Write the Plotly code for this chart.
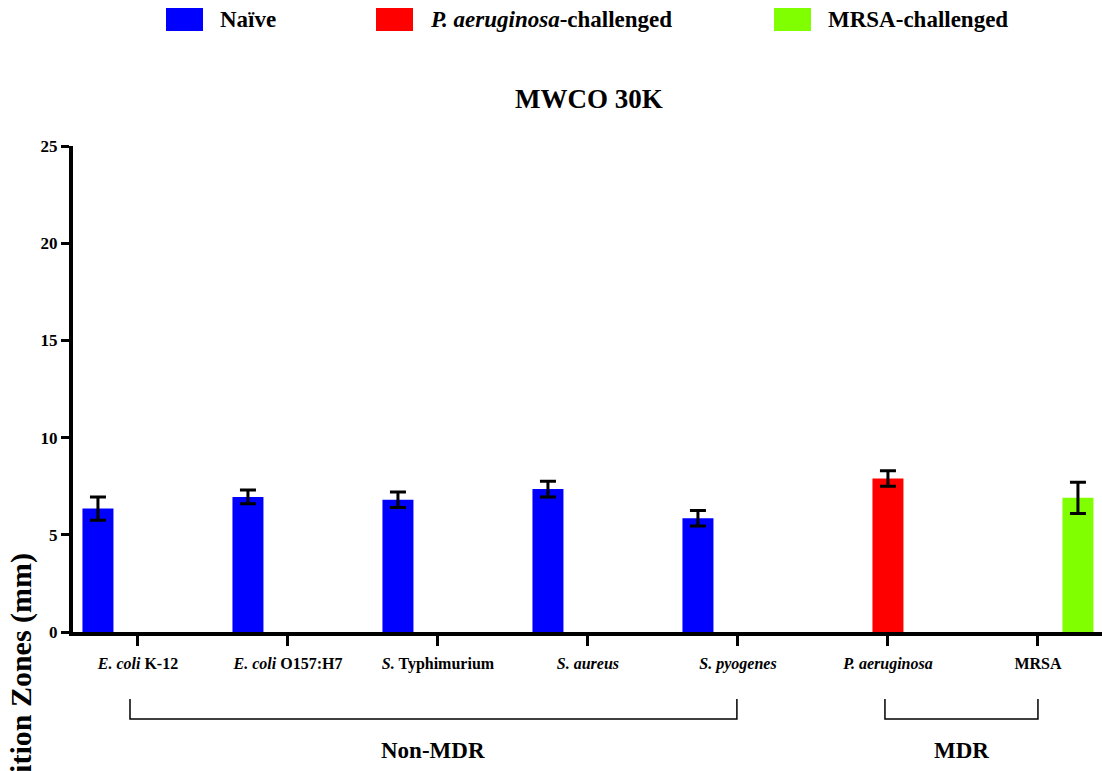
import plotly.graph_objects as go

# ---- data -------------------------------------------------------------
categories = ["E. coli K-12", "E. coli O157:H7", "S. Typhimurium", "S. aureus",
              "S. pyogenes", "P. aeruginosa", "MRSA"]
tick_labels = ["<b><i>E. coli</i> K-12</b>", "<b><i>E. coli</i> O157:H7</b>",
               "<b><i>S.</i> Typhimurium</b>", "<b><i>S. aureus</i></b>",
               "<b><i>S. pyogenes</i></b>", "<b><i>P. aeruginosa</i></b>", "<b>MRSA</b>"]

naive_mean = [6.35, 6.95, 6.8, 7.35, 5.85, None, None]
naive_err = [0.6, 0.35, 0.4, 0.4, 0.4, None, None]
pa_mean = [None, None, None, None, None, 7.9, None]
pa_err = [None, None, None, None, None, 0.4, None]
mrsa_mean = [None, None, None, None, None, None, 6.9]
mrsa_err = [None, None, None, None, None, None, 0.8]

y_ticks = [0, 5, 10, 15, 20, 25]

FONT = "Liberation Serif, Times New Roman, serif"
W, H = 1102, 771
ML, MR, MT, MB = 73, 0, 146, 139
PW, PH = W - ML - MR, H - MT - MB


def px(xp):
    return (xp - ML) / PW


def py(yp):
    return (H - MB - yp) / PH


def bar(name, y, err, color):
    return go.Bar(
        x=categories, y=y, name=name, marker=dict(color=color, line=dict(width=0)),
        error_y=dict(type="data", array=err, visible=True, color="black",
                     thickness=3, width=8),
        showlegend=False,
    )


fig = go.Figure([
    bar("Naïve", naive_mean, naive_err, "#0000FF"),
    bar("P. aeruginosa-challenged", pa_mean, pa_err, "#FF0000"),
    bar("MRSA-challenged", mrsa_mean, mrsa_err, "#80FF00"),
])

fig.update_layout(
    width=W, height=H,
    margin=dict(l=ML, r=MR, t=MT, b=MB, pad=0),
    paper_bgcolor="white", plot_bgcolor="white",
    barmode="group", bargap=0.2, bargroupgap=0.225,
    font=dict(family=FONT, color="black"),
)

fig.update_xaxes(
    type="category", range=[-0.433, 6.427],
    tickvals=categories, ticktext=tick_labels,
    tickfont=dict(family=FONT, size=16, color="black"),
    ticks="outside", ticklen=10, tickwidth=3, tickcolor="black",
    showline=True, linewidth=4, linecolor="black",
    showgrid=False, zeroline=False, ticklabelstandoff=4,
)
fig.update_yaxes(
    range=[0, 25], tickvals=y_ticks,
    ticktext=[f"<b>{v}</b>" for v in y_ticks],
    tickfont=dict(family=FONT, size=17, color="black"),
    ticks="outside", ticklen=8, tickwidth=3, tickcolor="black",
    showline=True, linewidth=4, linecolor="black",
    showgrid=False, zeroline=False,
)

annotations = []
shapes = []

# title
annotations.append(dict(text="<b>MWCO 30K</b>", x=px(589), y=py(99), xref="paper", yref="paper",
                        showarrow=False, font=dict(family=FONT, size=27),
                        xanchor="center", yanchor="middle"))

# y-axis title
annotations.append(dict(text="<b>Inhibition Zones (mm)</b>", x=px(21), y=py(698),
                        xref="paper", yref="paper", textangle=-90, showarrow=False,
                        font=dict(family=FONT, size=30), xanchor="center", yanchor="middle"))

# legend
legend_items = [("Naïve", "#0000FF", 166),
                ("<i>P. aeruginosa</i>-challenged", "#FF0000", 376),
                ("MRSA-challenged", "#80FF00", 774)]
for label, color, x0 in legend_items:
    shapes.append(dict(type="rect", xref="paper", yref="paper",
                       x0=px(x0), x1=px(x0 + 37), y0=py(31), y1=py(8),
                       fillcolor=color, line=dict(width=0)))
    annotations.append(dict(text=f"<b>{label}</b>", x=px(x0 + 52), y=py(19),
                            xref="paper", yref="paper", showarrow=False,
                            font=dict(family=FONT, size=23),
                            xanchor="left", yanchor="middle"))

# group brackets
groups = [("Non-MDR", -0.053, 3.993), ("MDR", 4.98, 6.0)]
for name, a, b in groups:
    shapes.append(dict(type="path", xref="x", yref="paper",
                       path=f"M {a},{py(699)} L {a},{py(719)} L {b},{py(719)} L {b},{py(699)}",
                       line=dict(color="black", width=1.5)))
    annotations.append(dict(text=f"<b>{name}</b>", x=(a + b) / 2, y=py(750),
                            xref="x", yref="paper", showarrow=False,
                            font=dict(family=FONT, size=23),
                            xanchor="center", yanchor="middle"))

fig.update_layout(annotations=annotations, shapes=shapes)

fig.write_html("out.html")
